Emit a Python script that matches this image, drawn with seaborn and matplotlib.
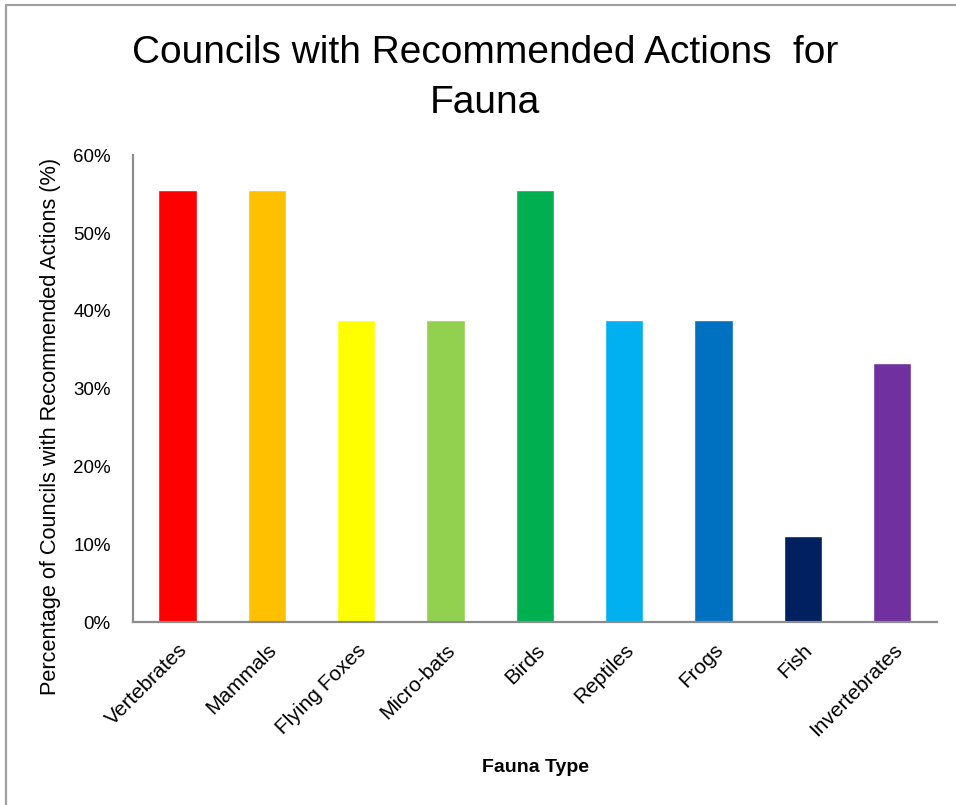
import pandas as pd
import matplotlib.pyplot as plt
from matplotlib.lines import Line2D
from matplotlib.ticker import PercentFormatter
import seaborn as sns

# fauna categories and share of councils with recommended actions (%)
fauna = ["Vertebrates", "Mammals", "Flying Foxes", "Micro-bats", "Birds",
         "Reptiles", "Frogs", "Fish", "Invertebrates"]
percent = [55.6, 55.6, 38.9, 38.9, 55.6, 38.9, 38.9, 11.1, 33.3]
bar_colors = ["#FF0000", "#FFC000", "#FFFF00", "#92D050", "#00B050",
              "#00B0F0", "#0070C0", "#002060", "#7030A0"]

sns.set_style("white")
plt.rcParams["font.family"] = ["Liberation Sans", "DejaVu Sans"]
plt.rcParams["text.color"] = "black"
plt.rcParams["xtick.color"] = "black"
plt.rcParams["ytick.color"] = "black"

df = pd.DataFrame({"fauna": fauna, "percent": percent})

fig = plt.figure(figsize=(9.56, 8.05), dpi=100)
ax = fig.add_axes([0.139, 0.227, 0.841, 0.580])

sns.barplot(data=df, x="fauna", y="percent", hue="fauna",
            palette=dict(zip(fauna, bar_colors)), width=0.43,
            legend=False, saturation=1, ax=ax)

ax.set_ylim(0, 60)
ax.set_yticks(range(0, 61, 10))
ax.yaxis.set_major_formatter(PercentFormatter(decimals=0))
ax.tick_params(axis="both", length=0)
ax.tick_params(axis="y", pad=16, labelsize=13.5)

ax.set_xticks(range(len(fauna)))
ax.set_xticklabels(fauna, rotation=45, ha="right", rotation_mode="anchor",
                   fontsize=15)
ax.tick_params(axis="x", pad=13)
ax.set_xlabel("")
ax.set_ylabel("")

for side in ["top", "right"]:
    ax.spines[side].set_visible(False)
for side in ["left", "bottom"]:
    ax.spines[side].set_color("#8C8C8C")
    ax.spines[side].set_linewidth(1.6)

fig.text(0.507, 0.9217, "Councils with Recommended Actions  for",
         ha="center", va="baseline", fontsize=28)
fig.text(0.507, 0.8596, "Fauna", ha="center", va="baseline", fontsize=28)
fig.text(0.053, 0.47, "Percentage of Councils with Recommended Actions (%)",
         rotation=90, ha="center", va="center", fontsize=15.7)
fig.text(0.56, 0.047, "Fauna Type", ha="center", va="center", fontsize=14,
         fontweight="bold")

# partial chart border (top and left edges only)
fig.add_artist(Line2D([0.0063, 1.0], [0.9938, 0.9938], transform=fig.transFigure,
                      color="#A0A0A0", linewidth=1.6))
fig.add_artist(Line2D([0.0063, 0.0063], [0.0, 0.9938], transform=fig.transFigure,
                      color="#A0A0A0", linewidth=1.6))

fig.savefig("out.png", dpi=100)
